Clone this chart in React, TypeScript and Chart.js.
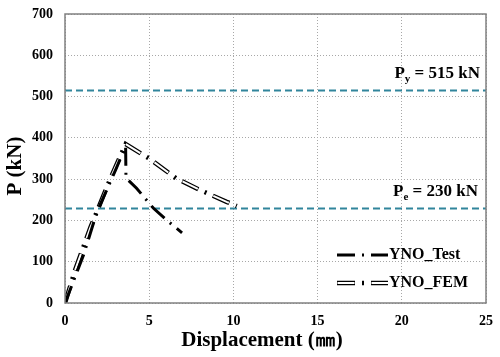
import React, { useEffect, useRef } from "react";
import { Chart, registerables } from "chart.js";

Chart.register(...registerables);

const testX = [0, 1.1, 1.9, 3.0, 3.6, 3.62, 4.25, 5.24, 6.03, 6.95];
const testY = [0, 116, 221, 322, 380, 303, 278, 230, 201, 170];
const femX = [0, 0.6, 1.5, 2.7, 3.6, 5.0, 6.6, 8.0, 9.6, 10.2];
const femY = [0, 80, 182, 302, 385, 350, 302, 274, 245, 235];
const xTicks = [0, 5, 10, 15, 20, 25];
const yTicks = [0, 100, 200, 300, 400, 500, 600, 700];
const pyValue = 515;
const peValue = 230;
const seriesNames = ["YNO_Test", "YNO_FEM"];

const FONT = "'Liberation Serif', 'Times New Roman', serif";
const TEAL = "#31859c";
const DASH = [18, 7, 2, 7];
const INNER_DASH = [17, 8, 0, 9];

export default function App() {
  const ref = useRef<HTMLCanvasElement | null>(null);
  useEffect(() => {
    if (!ref.current) return;
    const pts = (xs: number[], ys: number[]) => xs.map((x, i) => ({ x, y: ys[i] }));
    const overlay = {
      id: "overlay",
      beforeDatasetsDraw(chart: any) {
        const { ctx, chartArea, scales } = chart;
        const y = scales.y;
        ctx.save();
        ctx.strokeStyle = TEAL;
        ctx.lineWidth = 2;
        ctx.setLineDash([7, 4]);
        [pyValue, peValue].forEach((v) => {
          const py = Math.round(y.getPixelForValue(v)) + 0.5;
          ctx.beginPath();
          ctx.moveTo(chartArea.left, py);
          ctx.lineTo(chartArea.right, py);
          ctx.stroke();
        });
        ctx.restore();
      },
      afterDraw(chart: any) {
        const { ctx, chartArea, scales } = chart;
        const y = scales.y;
        ctx.save();
        ctx.strokeStyle = "#808080";
        ctx.lineWidth = 1.5;
        ctx.setLineDash([]);
        ctx.strokeRect(chartArea.left, chartArea.top, chartArea.right - chartArea.left, chartArea.bottom - chartArea.top);
        const drawLabel = (v: number, sub: string, rightX: number) => {
          const baseY = y.getPixelForValue(v) - 12;
          ctx.fillStyle = "#000";
          ctx.textBaseline = "alphabetic";
          ctx.textAlign = "left";
          const main = " = " + v + " kN";
          ctx.font = `bold 17px ${FONT}`;
          const wP = ctx.measureText("P").width;
          const wMain = ctx.measureText(main).width;
          ctx.font = `bold 11px ${FONT}`;
          const wSub = ctx.measureText(sub).width;
          const start = rightX - wP - wSub - wMain;
          ctx.font = `bold 17px ${FONT}`;
          ctx.fillText("P", start, baseY);
          ctx.font = `bold 11px ${FONT}`;
          ctx.fillText(sub, start + wP, baseY + 4);
          ctx.font = `bold 17px ${FONT}`;
          ctx.fillText(main, start + wP + wSub, baseY);
        };
        drawLabel(pyValue, "y", 480);
        drawLabel(peValue, "e", 478);
        ctx.fillStyle = "#000";
        ctx.font = `bold 21px ${FONT}`;
        ctx.textAlign = "center";
        ctx.textBaseline = "middle";
        ctx.fillText("Displacement (㎜)", 262, 341);
        ctx.save();
        ctx.translate(16, 166);
        ctx.rotate(-Math.PI / 2);
        ctx.fillText("P (kN)", 0, 0);
        ctx.restore();
        const legendItems = [
          { name: seriesNames[0], y: 255, fem: false },
          { name: seriesNames[1], y: 283, fem: true },
        ];
        legendItems.forEach((it) => {
          const x0 = 337;
          const x1 = 388;
          ctx.lineCap = "butt";
          ctx.setLineDash(DASH);
          if (it.fem) {
            ctx.strokeStyle = "#000";
            ctx.lineWidth = 4.5;
            ctx.beginPath();
            ctx.moveTo(x0, it.y);
            ctx.lineTo(x1, it.y);
            ctx.stroke();
            ctx.strokeStyle = "#fff";
            ctx.lineWidth = 2;
            ctx.setLineDash(INNER_DASH);
            ctx.lineDashOffset = -0.5;
            ctx.beginPath();
            ctx.moveTo(x0, it.y);
            ctx.lineTo(x1, it.y);
            ctx.stroke();
            ctx.lineDashOffset = 0;
          } else {
            ctx.strokeStyle = "#000";
            ctx.lineWidth = 3;
            ctx.beginPath();
            ctx.moveTo(x0, it.y);
            ctx.lineTo(x1, it.y);
            ctx.stroke();
          }
          ctx.setLineDash([]);
          ctx.fillStyle = "#000";
          ctx.font = `bold 16px ${FONT}`;
          ctx.textAlign = "left";
          ctx.textBaseline = "middle";
          ctx.fillText(it.name, x1 + 1, it.y);
        });
        ctx.restore();
      },
    };

    const chart = new Chart(ref.current, {
      type: "line",
      data: {
        datasets: [
          {
            label: seriesNames[0],
            data: pts(testX, testY),
            borderColor: "#000",
            borderWidth: 3,
            borderDash: DASH,
            pointRadius: 0,
            tension: 0,
            order: 1,
          },
          {
            label: seriesNames[1],
            data: pts(femX, femY),
            borderColor: "#000",
            borderWidth: 4.5,
            borderDash: DASH,
            pointRadius: 0,
            tension: 0,
            order: 3,
          },
          {
            label: "_femInner",
            data: pts(femX, femY),
            borderColor: "#fff",
            borderWidth: 2,
            borderDash: INNER_DASH,
            borderDashOffset: -0.5,
            pointRadius: 0,
            tension: 0,
            order: 2,
          },
        ],
      },
      options: {
        responsive: false,
        animation: false,
        layout: { padding: { top: 14, right: 14, left: 0, bottom: 0 } },
        plugins: { legend: { display: false }, tooltip: { enabled: false } },
        scales: {
          x: {
            type: "linear",
            min: 0,
            max: 25,
            afterBuildTicks: (s: any) => {
              s.ticks = xTicks.map((v) => ({ value: v }));
            },
            afterFit: (s: any) => {
              s.height = 54;
              s.paddingLeft = 0;
              s.paddingRight = 0;
            },
            grid: { color: "#a8a8a8", lineWidth: 1, drawTicks: false },
            border: { display: false, dash: [1, 2] },
            ticks: {
              padding: 10,
              color: "#000",
              font: { family: FONT, size: 14, weight: "bold" },
              maxRotation: 0,
            },
          },
          y: {
            type: "linear",
            min: 0,
            max: 700,
            afterBuildTicks: (s: any) => {
              s.ticks = yTicks.map((v) => ({ value: v }));
            },
            afterFit: (s: any) => {
              s.width = 65;
              s.paddingTop = 0;
              s.paddingBottom = 0;
            },
            grid: { color: "#a8a8a8", lineWidth: 1, drawTicks: false },
            border: { display: false, dash: [1, 2] },
            ticks: {
              padding: 12,
              color: "#000",
              font: { family: FONT, size: 14, weight: "bold" },
            },
          },
        },
      } as any,
      plugins: [overlay],
    });
    return () => chart.destroy();
  }, []);
  return (
    <div style={{ position: "fixed", left: 0, top: 0, width: 500, height: 357, background: "#fff" }}>
      <canvas ref={ref} width={500} height={357} style={{ width: 500, height: 357 }} />
    </div>
  );
}
